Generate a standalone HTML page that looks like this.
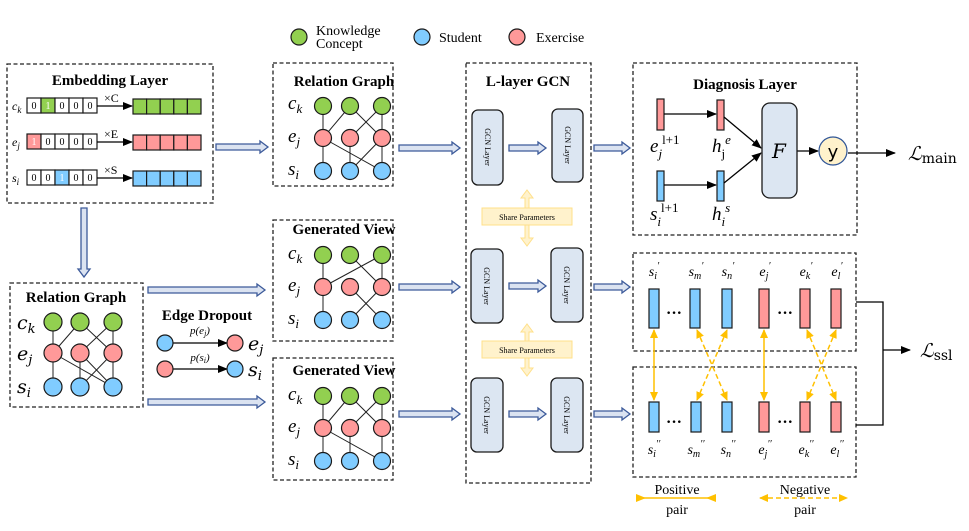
<!DOCTYPE html>
<html><head><meta charset="utf-8"><style>
html,body{margin:0;padding:0;background:#fff}
svg{display:block}
text{font-family:"Liberation Serif",serif;fill:#000}
.t{font-weight:bold;font-size:15px}
.it{font-style:italic}
.box{fill:none;stroke:#222;stroke-width:1.3;stroke-dasharray:4,2.5}
.g{fill:#92d050;stroke:#1a1a1a;stroke-width:1.2}
.b{fill:#80ccff;stroke:#1a1a1a;stroke-width:1.2}
.r{fill:#ff9999;stroke:#1a1a1a;stroke-width:1.2}
.e{stroke:#222;stroke-width:1}
.ha{fill:#dbe3f1;stroke:#3c5a9a;stroke-width:1.3}
.gcn{fill:#dce6f2;stroke:#1a1a1a;stroke-width:1.3}
.cell{fill:#fff;stroke:#1a1a1a;stroke-width:1.2}
.ya{stroke:#ffc000;stroke-width:1.5;fill:none}
.yd{stroke:#ffc000;stroke-width:1.5;fill:none;stroke-dasharray:5,3}
</style></head><body>
<svg width="969" height="531" viewBox="0 0 969 531" xmlns="http://www.w3.org/2000/svg">
<defs>
<marker id="ah" markerWidth="10" markerHeight="8" refX="9" refY="4" orient="auto" markerUnits="userSpaceOnUse"><path d="M0,0 L10,4 L0,8 z" fill="#000"/></marker>
<marker id="yh" markerWidth="9" markerHeight="8" refX="8" refY="4" orient="auto" markerUnits="userSpaceOnUse"><path d="M0,0 L9,4 L0,8 z" fill="#ffc000"/></marker>
<marker id="yhs" markerWidth="9" markerHeight="8" refX="8" refY="4" orient="auto-start-reverse" markerUnits="userSpaceOnUse"><path d="M0,0 L9,4 L0,8 z" fill="#ffc000"/></marker>
</defs>

<!-- Legend -->
<circle class="g" cx="299" cy="37" r="8"/><text x="316" y="35" font-size="14">Knowledge</text><text x="316" y="48" font-size="14">Concept</text>
<circle class="b" cx="422" cy="37" r="8"/><text x="439" y="42" font-size="14">Student</text>
<circle class="r" cx="517" cy="37" r="8"/><text x="536" y="42" font-size="14">Exercise</text>

<!-- Embedding layer -->
<rect class="box" x="7" y="64" width="206" height="139"/>
<text class="t" x="110" y="85" text-anchor="middle">Embedding Layer</text>
<g font-size="11">
<text class="it" x="12" y="110" font-size="12">c<tspan font-size="9" dy="3">k</tspan></text>
<text class="it" x="12" y="146" font-size="12">e<tspan font-size="9" dy="3">j</tspan></text>
<text class="it" x="12" y="182" font-size="12">s<tspan font-size="9" dy="3">i</tspan></text>
</g>
<g>
<rect class="cell" x="27" y="98" width="14" height="15"/><rect class="g" x="41" y="98" width="14" height="15"/><rect class="cell" x="55" y="98" width="14" height="15"/><rect class="cell" x="69" y="98" width="14" height="15"/><rect class="cell" x="83" y="98" width="14" height="15"/>
<rect class="r" x="27" y="134" width="14" height="15"/><rect class="cell" x="41" y="134" width="14" height="15"/><rect class="cell" x="55" y="134" width="14" height="15"/><rect class="cell" x="69" y="134" width="14" height="15"/><rect class="cell" x="83" y="134" width="14" height="15"/>
<rect class="cell" x="27" y="170" width="14" height="15"/><rect class="cell" x="41" y="170" width="14" height="15"/><rect class="b" x="55" y="170" width="14" height="15"/><rect class="cell" x="69" y="170" width="14" height="15"/><rect class="cell" x="83" y="170" width="14" height="15"/>
</g>
<g font-size="10" text-anchor="middle">
<text x="34" y="109">0</text><text x="48" y="109" style="fill:#fff">1</text><text x="62" y="109">0</text><text x="76" y="109">0</text><text x="90" y="109">0</text>
<text x="34" y="145" style="fill:#fff">1</text><text x="48" y="145">0</text><text x="62" y="145">0</text><text x="76" y="145">0</text><text x="90" y="145">0</text>
<text x="34" y="181">0</text><text x="48" y="181">0</text><text x="62" y="181" style="fill:#fff">1</text><text x="76" y="181">0</text><text x="90" y="181">0</text>
</g>
<line x1="97" y1="106" x2="132" y2="106" stroke="#000" stroke-width="1.3" marker-end="url(#ah)"/>
<line x1="97" y1="142" x2="132" y2="142" stroke="#000" stroke-width="1.3" marker-end="url(#ah)"/>
<line x1="97" y1="178" x2="132" y2="178" stroke="#000" stroke-width="1.3" marker-end="url(#ah)"/>
<text x="104" y="102" font-size="12">×C</text><text x="104" y="138" font-size="12">×E</text><text x="104" y="174" font-size="12">×S</text>
<g>
<rect class="g" x="133" y="99" width="13.6" height="15"/><rect class="g" x="146.6" y="99" width="13.6" height="15"/><rect class="g" x="160.2" y="99" width="13.6" height="15"/><rect class="g" x="173.8" y="99" width="13.6" height="15"/><rect class="g" x="187.4" y="99" width="13.6" height="15"/>
<rect class="r" x="133" y="135" width="13.6" height="15"/><rect class="r" x="146.6" y="135" width="13.6" height="15"/><rect class="r" x="160.2" y="135" width="13.6" height="15"/><rect class="r" x="173.8" y="135" width="13.6" height="15"/><rect class="r" x="187.4" y="135" width="13.6" height="15"/>
<rect class="b" x="133" y="171" width="13.6" height="15"/><rect class="b" x="146.6" y="171" width="13.6" height="15"/><rect class="b" x="160.2" y="171" width="13.6" height="15"/><rect class="b" x="173.8" y="171" width="13.6" height="15"/><rect class="b" x="187.4" y="171" width="13.6" height="15"/>
</g>

<!-- hollow arrows -->
<g class="ha">
<path d="M216,144 h44 v-3 l8,6 l-8,6 v-3 h-44 z"/>
<path d="M81,208 v61 h-3 l6,8 l6,-8 h-3 v-61 z"/>
<path d="M148,287 h109 v-3 l8,6 l-8,6 v-3 h-109 z"/>
<path d="M148,399 h109 v-3 l8,6 l-8,6 v-3 h-109 z"/>
<path d="M399,145 h53 v-3 l8,6 l-8,6 v-3 h-53 z"/>
<path d="M399,284 h53 v-3 l8,6 l-8,6 v-3 h-53 z"/>
<path d="M399,411 h53 v-3 l8,6 l-8,6 v-3 h-53 z"/>
<path d="M509,145 h29 v-3 l8,6 l-8,6 v-3 h-29 z"/>
<path d="M509,283 h29 v-3 l8,6 l-8,6 v-3 h-29 z"/>
<path d="M509,411 h29 v-3 l8,6 l-8,6 v-3 h-29 z"/>
<path d="M594,145 h28 v-3 l8,6 l-8,6 v-3 h-28 z"/>
<path d="M594,284 h28 v-3 l8,6 l-8,6 v-3 h-28 z"/>
<path d="M594,411 h28 v-3 l8,6 l-8,6 v-3 h-28 z"/>
</g>

<!-- Left relation graph -->
<rect class="box" x="10" y="283" width="133" height="124"/>
<text class="t" x="76" y="302" text-anchor="middle">Relation Graph</text>
<g font-family="DejaVu Sans" >
<text class="it" x="17" y="329" font-size="19" style="font-family:'DejaVu Serif',serif">c<tspan font-size="13" dy="4">k</tspan></text>
<text class="it" x="17" y="360" font-size="19" style="font-family:'DejaVu Serif',serif">e<tspan font-size="13" dy="4">j</tspan></text>
<text class="it" x="17" y="393" font-size="19" style="font-family:'DejaVu Serif',serif">s<tspan font-size="13" dy="4">i</tspan></text>
</g>
<g class="e">
<line x1="53" y1="322" x2="53" y2="387"/><line x1="80" y1="322" x2="53" y2="353"/><line x1="113" y1="322" x2="80" y2="353"/><line x1="80" y1="322" x2="113" y2="353"/><line x1="113" y1="322" x2="113" y2="387"/>
<line x1="53" y1="353" x2="113" y2="387"/><line x1="80" y1="353" x2="113" y2="387"/><line x1="113" y1="353" x2="80" y2="387"/><line x1="80" y1="353" x2="80" y2="387"/>
</g>
<circle class="g" cx="53" cy="322" r="9"/><circle class="g" cx="80" cy="322" r="9"/><circle class="g" cx="113" cy="322" r="9"/>
<circle class="r" cx="53" cy="353" r="9"/><circle class="r" cx="80" cy="353" r="9"/><circle class="r" cx="113" cy="353" r="9"/>
<circle class="b" cx="53" cy="387" r="9"/><circle class="b" cx="80" cy="387" r="9"/><circle class="b" cx="113" cy="387" r="9"/>

<!-- Edge dropout -->
<text class="t" x="207" y="320" text-anchor="middle">Edge Dropout</text>
<text class="it" x="200" y="334" font-size="11" text-anchor="middle">p(e<tspan font-size="8" dy="2">j</tspan><tspan dy="-2">)</tspan></text>
<text class="it" x="200" y="361" font-size="11" text-anchor="middle">p(s<tspan font-size="8" dy="2">i</tspan><tspan dy="-2">)</tspan></text>
<line x1="172" y1="343" x2="227" y2="343" stroke="#000" stroke-width="1.3" marker-end="url(#ah)"/>
<line x1="172" y1="369" x2="227" y2="369" stroke="#000" stroke-width="1.3" marker-end="url(#ah)"/>
<circle class="b" cx="165" cy="343" r="8"/><circle class="r" cx="235" cy="343" r="8"/>
<circle class="r" cx="165" cy="369" r="8"/><circle class="b" cx="235" cy="369" r="8"/>
<text class="it" x="248" y="350" font-size="19" style="font-family:'DejaVu Serif',serif">e<tspan font-size="13" dy="4">j</tspan></text>
<text class="it" x="248" y="376" font-size="19" style="font-family:'DejaVu Serif',serif">s<tspan font-size="13" dy="4">i</tspan></text>

<!-- Top relation graph -->
<rect class="box" x="273" y="63" width="120" height="123"/>
<text class="t" x="344" y="86" text-anchor="middle">Relation Graph</text>
<g style="font-family:'DejaVu Serif',serif" font-style="italic">
<text x="288" y="109" font-size="19">c<tspan font-size="13" dy="4">k</tspan></text>
<text x="288" y="142" font-size="19">e<tspan font-size="13" dy="4">j</tspan></text>
<text x="288" y="175" font-size="19">s<tspan font-size="13" dy="4">i</tspan></text>
</g>
<g class="e">
<line x1="323" y1="106" x2="323" y2="171"/><line x1="350" y1="106" x2="323" y2="138"/><line x1="382" y1="106" x2="350" y2="138"/><line x1="350" y1="106" x2="382" y2="138"/><line x1="382" y1="106" x2="382" y2="171"/>
<line x1="323" y1="138" x2="382" y2="171"/><line x1="382" y1="138" x2="350" y2="171"/><line x1="350" y1="138" x2="350" y2="171"/>
</g>
<circle class="g" cx="323" cy="106" r="8.5"/><circle class="g" cx="350" cy="106" r="8.5"/><circle class="g" cx="382" cy="106" r="8.5"/>
<circle class="r" cx="323" cy="138" r="8.5"/><circle class="r" cx="350" cy="138" r="8.5"/><circle class="r" cx="382" cy="138" r="8.5"/>
<circle class="b" cx="323" cy="171" r="8.5"/><circle class="b" cx="350" cy="171" r="8.5"/><circle class="b" cx="382" cy="171" r="8.5"/>

<!-- Generated view 1 -->
<rect class="box" x="273" y="220" width="120" height="121"/>
<text class="t" x="344" y="234" text-anchor="middle">Generated View</text>
<g style="font-family:'DejaVu Serif',serif" font-style="italic">
<text x="288" y="259" font-size="19">c<tspan font-size="13" dy="4">k</tspan></text>
<text x="288" y="291" font-size="19">e<tspan font-size="13" dy="4">j</tspan></text>
<text x="288" y="324" font-size="19">s<tspan font-size="13" dy="4">i</tspan></text>
</g>
<g class="e">
<line x1="323" y1="255" x2="323" y2="320"/><line x1="350" y1="255" x2="382" y2="287"/><line x1="382" y1="255" x2="323" y2="287"/><line x1="382" y1="255" x2="382" y2="287"/>
<line x1="350" y1="287" x2="382" y2="320"/><line x1="382" y1="287" x2="350" y2="320"/>
</g>
<circle class="g" cx="323" cy="255" r="8.5"/><circle class="g" cx="350" cy="255" r="8.5"/><circle class="g" cx="382" cy="255" r="8.5"/>
<circle class="r" cx="323" cy="287" r="8.5"/><circle class="r" cx="350" cy="287" r="8.5"/><circle class="r" cx="382" cy="287" r="8.5"/>
<circle class="b" cx="323" cy="320" r="8.5"/><circle class="b" cx="350" cy="320" r="8.5"/><circle class="b" cx="382" cy="320" r="8.5"/>

<!-- Generated view 2 -->
<rect class="box" x="273" y="358" width="120" height="122"/>
<text class="t" x="344" y="375" text-anchor="middle">Generated View</text>
<g style="font-family:'DejaVu Serif',serif" font-style="italic">
<text x="288" y="400" font-size="19">c<tspan font-size="13" dy="4">k</tspan></text>
<text x="288" y="432" font-size="19">e<tspan font-size="13" dy="4">j</tspan></text>
<text x="288" y="465" font-size="19">s<tspan font-size="13" dy="4">i</tspan></text>
</g>
<g class="e">
<line x1="323" y1="396" x2="323" y2="461"/><line x1="350" y1="396" x2="323" y2="428"/><line x1="382" y1="396" x2="350" y2="428"/><line x1="350" y1="396" x2="382" y2="428"/><line x1="382" y1="396" x2="382" y2="461"/>
<line x1="323" y1="428" x2="382" y2="461"/><line x1="350" y1="428" x2="350" y2="461"/>
</g>
<circle class="g" cx="323" cy="396" r="8.5"/><circle class="g" cx="350" cy="396" r="8.5"/><circle class="g" cx="382" cy="396" r="8.5"/>
<circle class="r" cx="323" cy="428" r="8.5"/><circle class="r" cx="350" cy="428" r="8.5"/><circle class="r" cx="382" cy="428" r="8.5"/>
<circle class="b" cx="323" cy="461" r="8.5"/><circle class="b" cx="350" cy="461" r="8.5"/><circle class="b" cx="382" cy="461" r="8.5"/>

<!-- GCN -->
<rect class="box" x="466" y="63" width="125" height="420"/>
<text class="t" x="528" y="86" text-anchor="middle">L-layer GCN</text>
<g>
<rect class="gcn" x="472" y="110" width="31" height="75" rx="6"/><rect class="gcn" x="552" y="109" width="31" height="73" rx="6"/>
<rect class="gcn" x="471" y="249" width="32" height="74" rx="6"/><rect class="gcn" x="551" y="248" width="32" height="74" rx="6"/>
<rect class="gcn" x="471" y="378" width="32" height="74" rx="6"/><rect class="gcn" x="551" y="378" width="32" height="74" rx="6"/>
</g>
<g font-size="8" text-anchor="middle">
<text transform="translate(485,147) rotate(90)">GCN Layer</text><text transform="translate(565,145) rotate(90)">GCN Layer</text>
<text transform="translate(484,286) rotate(90)">GCN Layer</text><text transform="translate(564,285) rotate(90)">GCN Layer</text>
<text transform="translate(484,415) rotate(90)">GCN Layer</text><text transform="translate(564,415) rotate(90)">GCN Layer</text>
</g>
<!-- share params -->
<g fill="#fff2cc" stroke="#ffe08a" stroke-width="1">
<path d="M525,198 h-4 l6,-8 l6,8 h-4 v40 h4 l-6,8 l-6,-8 h4 z"/>
<rect x="482" y="208" width="90" height="17"/>
<path d="M525,332 h-4 l6,-8 l6,8 h-4 v36 h4 l-6,8 l-6,-8 h4 z"/>
<rect x="482" y="341" width="90" height="17"/>
</g>
<text x="527" y="220" font-size="8" text-anchor="middle">Share Parameters</text>
<text x="527" y="353" font-size="8" text-anchor="middle">Share Parameters</text>

<!-- Diagnosis -->
<rect class="box" x="633" y="63" width="224" height="172"/>
<text class="t" x="745" y="89" text-anchor="middle">Diagnosis Layer</text>
<rect class="r" x="657" y="99" width="7" height="31"/>
<rect class="r" x="717" y="100" width="7" height="30"/>
<rect class="b" x="657" y="171" width="7" height="30"/>
<rect class="b" x="717" y="171" width="7" height="30"/>
<g stroke="#000" stroke-width="1.3" fill="none">
<line x1="664" y1="114" x2="716" y2="114" marker-end="url(#ah)"/>
<line x1="664" y1="185" x2="716" y2="185" marker-end="url(#ah)"/>
<line x1="724" y1="117" x2="761" y2="148" marker-end="url(#ah)"/>
<line x1="724" y1="183" x2="761" y2="153" marker-end="url(#ah)"/>
<line x1="797" y1="151" x2="818" y2="151" marker-end="url(#ah)"/>
<line x1="848" y1="153" x2="895" y2="153" marker-end="url(#ah)"/>
</g>
<rect class="gcn" x="762" y="103" width="35" height="95" rx="8"/>
<text class="it" x="779" y="158" font-size="20" text-anchor="middle" style="font-family:'DejaVu Serif',serif">F</text>
<circle cx="833" cy="151" r="14" fill="#fff2cc" stroke="#2f5597" stroke-width="1.2"/>
<text x="833" y="158" font-size="18" text-anchor="middle" style="font-family:'DejaVu Sans',sans-serif">y</text>
<g style="font-family:'DejaVu Serif',serif" font-style="italic">
<text x="650" y="152" font-size="19">e<tspan font-size="13" dy="6">j</tspan><tspan font-size="13" dy="-14" font-style="normal">l+1</tspan></text>
<text x="712" y="152" font-size="19">h<tspan font-size="13" dy="6" font-style="normal">j</tspan><tspan font-size="13" dy="-14">e</tspan></text>
<text x="650" y="220" font-size="19">s<tspan font-size="13" dy="6">i</tspan><tspan font-size="13" dy="-14" font-style="normal">l+1</tspan></text>
<text x="712" y="220" font-size="19">h<tspan font-size="13" dy="6">i</tspan><tspan font-size="13" dy="-14">s</tspan></text>
</g>
<text x="908" y="160" font-size="19" style="font-family:'DejaVu Serif',serif" font-style="italic">ℒ<tspan font-style="normal" font-size="14" dy="3">main</tspan></text>

<!-- SSL boxes -->
<rect class="box" x="633" y="253" width="223" height="98"/>
<rect class="box" x="633" y="367" width="223" height="110"/>
<g style="font-family:'DejaVu Serif',serif" font-style="italic" font-size="14" text-anchor="middle">
<text x="654" y="276">s<tspan font-size="10" dy="3">i</tspan><tspan font-size="10" dy="-10">′</tspan></text>
<text x="696" y="276">s<tspan font-size="10" dy="3">m</tspan><tspan font-size="10" dy="-10">′</tspan></text>
<text x="728" y="276">s<tspan font-size="10" dy="3">n</tspan><tspan font-size="10" dy="-10">′</tspan></text>
<text x="765" y="276">e<tspan font-size="10" dy="3">j</tspan><tspan font-size="10" dy="-10">′</tspan></text>
<text x="806" y="276">e<tspan font-size="10" dy="3">k</tspan><tspan font-size="10" dy="-10">′</tspan></text>
<text x="837" y="276">e<tspan font-size="10" dy="3">l</tspan><tspan font-size="10" dy="-10">′</tspan></text>
<text x="654" y="454">s<tspan font-size="10" dy="3">i</tspan><tspan font-size="10" dy="-10">′′</tspan></text>
<text x="696" y="454">s<tspan font-size="10" dy="3">m</tspan><tspan font-size="10" dy="-10">′′</tspan></text>
<text x="728" y="454">s<tspan font-size="10" dy="3">n</tspan><tspan font-size="10" dy="-10">′′</tspan></text>
<text x="765" y="454">e<tspan font-size="10" dy="3">j</tspan><tspan font-size="10" dy="-10">′′</tspan></text>
<text x="806" y="454">e<tspan font-size="10" dy="3">k</tspan><tspan font-size="10" dy="-10">′′</tspan></text>
<text x="837" y="454">e<tspan font-size="10" dy="3">l</tspan><tspan font-size="10" dy="-10">′′</tspan></text>
</g>
<g>
<rect class="b" x="649" y="289" width="10" height="39"/><rect class="b" x="690" y="289" width="10" height="39"/><rect class="b" x="722" y="289" width="10" height="39"/>
<rect class="r" x="759" y="289" width="10" height="39"/><rect class="r" x="800" y="289" width="10" height="39"/><rect class="r" x="831" y="289" width="10" height="39"/>
<rect class="b" x="649" y="402" width="10" height="30"/><rect class="b" x="691" y="402" width="10" height="30"/><rect class="b" x="722" y="402" width="10" height="30"/>
<rect class="r" x="759" y="402" width="10" height="30"/><rect class="r" x="800" y="402" width="10" height="30"/><rect class="r" x="831" y="402" width="10" height="30"/>
</g>
<g font-size="16" font-weight="bold" text-anchor="middle"><text x="674" y="318">···</text><text x="785" y="318">···</text><text x="674" y="427">···</text><text x="785" y="427">···</text></g>
<g>
<line class="ya" x1="654" y1="330" x2="654" y2="400" marker-start="url(#yhs)" marker-end="url(#yh)"/>
<line class="ya" x1="764" y1="330" x2="764" y2="400" marker-start="url(#yhs)" marker-end="url(#yh)"/>
<line class="yd" x1="697" y1="330" x2="727" y2="400" marker-start="url(#yhs)" marker-end="url(#yh)"/>
<line class="yd" x1="727" y1="330" x2="697" y2="400" marker-start="url(#yhs)" marker-end="url(#yh)"/>
<line class="yd" x1="807" y1="330" x2="836" y2="400" marker-start="url(#yhs)" marker-end="url(#yh)"/>
<line class="yd" x1="836" y1="330" x2="807" y2="400" marker-start="url(#yhs)" marker-end="url(#yh)"/>
</g>
<polyline points="856,302 883,302 883,425 856,425" fill="none" stroke="#000" stroke-width="1.3"/>
<line x1="883" y1="350" x2="910" y2="350" stroke="#000" stroke-width="1.3" marker-end="url(#ah)"/>
<text x="920" y="357" font-size="19" style="font-family:'DejaVu Serif',serif" font-style="italic">ℒ<tspan font-style="normal" font-size="14" dy="3">ssl</tspan></text>

<!-- pair legend -->
<text x="677" y="494" font-size="14" text-anchor="middle">Positive</text>
<text x="677" y="514" font-size="14" text-anchor="middle">pair</text>
<line class="ya" x1="636" y1="498" x2="716" y2="498"/>
<path d="M636,494 L646,498 L636,502 z M716,494 L706,498 L716,502 z" fill="#ffc000"/>
<text x="805" y="494" font-size="14" text-anchor="middle">Negative</text>
<text x="805" y="514" font-size="14" text-anchor="middle">pair</text>
<line class="yd" x1="760" y1="498" x2="847" y2="498" marker-start="url(#yhs)" marker-end="url(#yh)"/>
</svg>
</body></html>
